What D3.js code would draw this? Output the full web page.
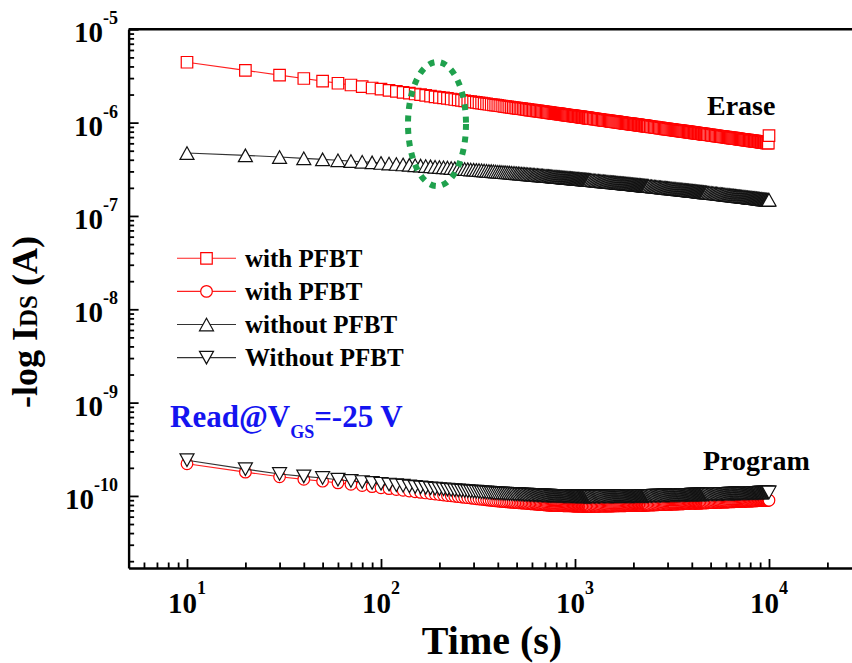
<!DOCTYPE html>
<html><head><meta charset="utf-8">
<script src="https://cdn.jsdelivr.net/npm/d3@7"></script>
<style>body{margin:0;background:#fff}svg{display:block}</style>
</head><body><svg id="c" width="852" height="663"></svg>
<script>
// ---------------- data (time in s, log10 of I_DS in A) ----------------
const timeS = [
10,20,30,40,50,60,70,80,90,100,
110,120,130,140,150,160,170,180,190,200,
210,220,230,240,250,260,270,280,290,300,
310,320,330,340,350,360,370,380,390,400,
410,420,430,440,450,460,470,480,490,500,
510,520,530,540,550,560,570,580,590,600,
610,620,630,640,650,660,670,680,690,700,
710,720,730,740,750,760,770,780,790,800,
810,820,830,840,850,860,870,880,890,900,
910,920,930,940,950,960,970,980,990,1000,
1010,1020,1030,1040,1050,1060,1070,1080,1090,1100,
1110,1120,1130,1140,1150,1160,1170,1180,1190,1200,
1220,1240,1260,1280,1300,1320,1340,1360,1380,1400,
1420,1440,1460,1480,1500,1520,1540,1560,1580,1600,
1620,1640,1660,1680,1700,1720,1740,1760,1780,1800,
1820,1840,1860,1880,1900,1920,1940,1960,1980,2000,
2020,2040,2060,2080,2100,2120,2140,2160,2180,2200,
2220,2240,2260,2280,2300,2320,2340,2360,2380,2400,
2440,2480,2520,2560,2600,2640,2680,2720,2760,2800,
2840,2880,2920,2960,3000,3040,3080,3120,3160,3200,
3240,3280,3320,3360,3400,3440,3480,3520,3560,3600,
3640,3680,3720,3760,3800,3840,3880,3920,3960,4000,
4040,4080,4120,4160,4200,4240,4280,4320,4360,4400,
4440,4480,4520,4560,4600,4640,4680,4720,4760,4800,
4880,4960,5040,5120,5200,5280,5360,5440,5520,5600,
5680,5760,5840,5920,6000,6080,6160,6240,6320,6400,
6480,6560,6640,6720,6800,6880,6960,7040,7120,7200,
7280,7360,7440,7520,7600,7680,7760,7840,7920,8000,
8080,8160,8240,8320,8400,8480,8560,8640,8720,8800,
8880,8960,9040,9120,9200,9280,9360,9440,9520,9600,
9680,9760,9840,9920,10000];

const logEraseWithPFBT = [
-5.353,-5.440,-5.491,-5.527,-5.555,-5.578,-5.597,-5.614,-5.629,-5.642,
-5.654,-5.665,-5.675,-5.684,-5.693,-5.701,-5.709,-5.716,-5.723,-5.729,
-5.735,-5.741,-5.747,-5.752,-5.757,-5.762,-5.767,-5.771,-5.776,-5.780,
-5.784,-5.788,-5.792,-5.796,-5.799,-5.803,-5.806,-5.810,-5.813,-5.816,
-5.819,-5.822,-5.825,-5.828,-5.831,-5.834,-5.836,-5.839,-5.841,-5.844,
-5.847,-5.849,-5.851,-5.854,-5.856,-5.858,-5.861,-5.863,-5.865,-5.867,
-5.869,-5.871,-5.873,-5.875,-5.877,-5.879,-5.881,-5.883,-5.884,-5.886,
-5.888,-5.890,-5.891,-5.893,-5.895,-5.897,-5.898,-5.900,-5.901,-5.903,
-5.904,-5.906,-5.907,-5.909,-5.910,-5.912,-5.913,-5.915,-5.916,-5.918,
-5.919,-5.921,-5.922,-5.923,-5.924,-5.926,-5.927,-5.928,-5.929,-5.931,
-5.932,-5.934,-5.935,-5.936,-5.937,-5.938,-5.939,-5.941,-5.942,-5.943,
-5.944,-5.945,-5.946,-5.948,-5.949,-5.950,-5.951,-5.952,-5.953,-5.954,
-5.956,-5.958,-5.960,-5.962,-5.964,-5.966,-5.968,-5.970,-5.972,-5.973,
-5.975,-5.977,-5.979,-5.980,-5.982,-5.984,-5.986,-5.987,-5.989,-5.990,
-5.992,-5.993,-5.995,-5.996,-5.998,-5.999,-6.001,-6.002,-6.004,-6.005,
-6.007,-6.008,-6.009,-6.010,-6.012,-6.013,-6.014,-6.015,-6.017,-6.018,
-6.020,-6.021,-6.022,-6.023,-6.024,-6.025,-6.027,-6.028,-6.029,-6.030,
-6.031,-6.032,-6.033,-6.034,-6.035,-6.036,-6.038,-6.039,-6.040,-6.041,
-6.043,-6.045,-6.047,-6.049,-6.051,-6.053,-6.055,-6.057,-6.059,-6.060,
-6.062,-6.064,-6.066,-6.067,-6.069,-6.071,-6.073,-6.074,-6.076,-6.077,
-6.079,-6.080,-6.082,-6.083,-6.085,-6.086,-6.088,-6.089,-6.091,-6.092,
-6.094,-6.095,-6.096,-6.097,-6.099,-6.100,-6.101,-6.102,-6.104,-6.105,
-6.107,-6.108,-6.109,-6.110,-6.111,-6.112,-6.114,-6.115,-6.116,-6.117,
-6.118,-6.119,-6.121,-6.122,-6.123,-6.124,-6.125,-6.126,-6.127,-6.128,
-6.130,-6.132,-6.134,-6.136,-6.138,-6.140,-6.142,-6.144,-6.146,-6.147,
-6.149,-6.151,-6.153,-6.154,-6.156,-6.158,-6.160,-6.161,-6.163,-6.164,
-6.166,-6.167,-6.169,-6.170,-6.172,-6.173,-6.175,-6.176,-6.178,-6.179,
-6.181,-6.182,-6.183,-6.184,-6.186,-6.187,-6.188,-6.189,-6.191,-6.192,
-6.194,-6.195,-6.196,-6.197,-6.198,-6.199,-6.201,-6.202,-6.203,-6.204,
-6.205,-6.206,-6.207,-6.208,-6.210,-6.211,-6.212,-6.213,-6.214,-6.215,
-6.216,-6.217,-6.218,-6.219,-6.140];

const logProgramWithPFBT = [
-9.655,-9.745,-9.795,-9.822,-9.842,-9.860,-9.875,-9.888,-9.900,-9.912,
-9.922,-9.931,-9.940,-9.948,-9.955,-9.962,-9.968,-9.974,-9.980,-9.985,
-9.990,-9.995,-9.999,-10.004,-10.008,-10.012,-10.016,-10.019,-10.023,-10.026,
-10.030,-10.033,-10.036,-10.039,-10.042,-10.045,-10.048,-10.050,-10.053,-10.055,
-10.057,-10.059,-10.061,-10.062,-10.064,-10.066,-10.067,-10.069,-10.070,-10.072,
-10.073,-10.074,-10.076,-10.077,-10.078,-10.080,-10.081,-10.082,-10.084,-10.085,
-10.086,-10.087,-10.088,-10.089,-10.091,-10.092,-10.093,-10.094,-10.095,-10.096,
-10.097,-10.098,-10.099,-10.100,-10.101,-10.101,-10.101,-10.101,-10.102,-10.102,
-10.103,-10.103,-10.103,-10.103,-10.104,-10.104,-10.105,-10.105,-10.105,-10.105,
-10.106,-10.106,-10.106,-10.106,-10.107,-10.107,-10.108,-10.108,-10.108,-10.108,
-10.109,-10.109,-10.109,-10.109,-10.110,-10.110,-10.110,-10.110,-10.111,-10.111,
-10.111,-10.111,-10.112,-10.112,-10.112,-10.112,-10.113,-10.113,-10.113,-10.113,
-10.113,-10.112,-10.112,-10.112,-10.112,-10.111,-10.111,-10.110,-10.110,-10.110,
-10.110,-10.109,-10.109,-10.109,-10.109,-10.108,-10.108,-10.108,-10.108,-10.107,
-10.107,-10.107,-10.107,-10.106,-10.106,-10.105,-10.105,-10.105,-10.105,-10.105,
-10.105,-10.104,-10.104,-10.104,-10.104,-10.103,-10.103,-10.103,-10.103,-10.102,
-10.102,-10.102,-10.102,-10.101,-10.101,-10.101,-10.101,-10.101,-10.101,-10.100,
-10.100,-10.100,-10.100,-10.100,-10.100,-10.099,-10.099,-10.099,-10.099,-10.098,
-10.098,-10.098,-10.098,-10.097,-10.096,-10.095,-10.095,-10.094,-10.094,-10.093,
-10.093,-10.092,-10.092,-10.091,-10.091,-10.090,-10.090,-10.089,-10.089,-10.088,
-10.088,-10.087,-10.087,-10.087,-10.087,-10.086,-10.086,-10.085,-10.085,-10.084,
-10.084,-10.083,-10.083,-10.083,-10.083,-10.082,-10.082,-10.081,-10.081,-10.080,
-10.080,-10.080,-10.080,-10.079,-10.079,-10.078,-10.078,-10.077,-10.077,-10.077,
-10.077,-10.076,-10.076,-10.075,-10.075,-10.075,-10.075,-10.074,-10.074,-10.074,
-10.073,-10.072,-10.072,-10.071,-10.071,-10.070,-10.070,-10.069,-10.069,-10.068,
-10.068,-10.067,-10.067,-10.066,-10.066,-10.065,-10.065,-10.064,-10.064,-10.063,
-10.063,-10.062,-10.062,-10.061,-10.061,-10.060,-10.060,-10.059,-10.059,-10.058,
-10.058,-10.058,-10.058,-10.057,-10.057,-10.056,-10.056,-10.055,-10.055,-10.054,
-10.054,-10.054,-10.054,-10.053,-10.053,-10.052,-10.052,-10.052,-10.052,-10.051,
-10.051,-10.050,-10.050,-10.050,-10.050,-10.049,-10.049,-10.048,-10.048,-10.048,
-10.048,-10.047,-10.047,-10.046,-10.046];

const logEraseWithoutPFBT = [
-6.326,-6.351,-6.369,-6.383,-6.394,-6.403,-6.412,-6.419,-6.426,-6.432,
-6.438,-6.443,-6.448,-6.453,-6.457,-6.461,-6.465,-6.469,-6.473,-6.476,
-6.479,-6.482,-6.486,-6.488,-6.491,-6.494,-6.497,-6.499,-6.502,-6.504,
-6.507,-6.509,-6.511,-6.513,-6.516,-6.518,-6.520,-6.522,-6.524,-6.526,
-6.528,-6.529,-6.531,-6.533,-6.534,-6.536,-6.538,-6.540,-6.541,-6.543,
-6.544,-6.546,-6.547,-6.549,-6.550,-6.552,-6.553,-6.554,-6.556,-6.557,
-6.559,-6.560,-6.561,-6.562,-6.564,-6.565,-6.566,-6.567,-6.569,-6.570,
-6.571,-6.572,-6.573,-6.574,-6.575,-6.576,-6.578,-6.579,-6.580,-6.581,
-6.582,-6.583,-6.584,-6.585,-6.586,-6.587,-6.588,-6.589,-6.590,-6.591,
-6.592,-6.593,-6.594,-6.594,-6.595,-6.596,-6.597,-6.598,-6.599,-6.600,
-6.601,-6.601,-6.602,-6.603,-6.604,-6.605,-6.606,-6.606,-6.607,-6.608,
-6.609,-6.609,-6.610,-6.611,-6.612,-6.612,-6.613,-6.614,-6.615,-6.615,
-6.617,-6.618,-6.620,-6.621,-6.623,-6.624,-6.626,-6.627,-6.628,-6.629,
-6.631,-6.632,-6.633,-6.634,-6.636,-6.637,-6.638,-6.639,-6.640,-6.641,
-6.643,-6.644,-6.645,-6.646,-6.647,-6.648,-6.649,-6.650,-6.651,-6.652,
-6.653,-6.654,-6.655,-6.656,-6.657,-6.658,-6.659,-6.660,-6.661,-6.662,
-6.663,-6.664,-6.665,-6.666,-6.667,-6.668,-6.669,-6.669,-6.670,-6.671,
-6.672,-6.673,-6.674,-6.675,-6.676,-6.676,-6.677,-6.678,-6.679,-6.679,
-6.681,-6.683,-6.685,-6.686,-6.688,-6.689,-6.691,-6.692,-6.694,-6.695,
-6.696,-6.697,-6.699,-6.700,-6.702,-6.703,-6.704,-6.705,-6.707,-6.708,
-6.709,-6.710,-6.712,-6.713,-6.714,-6.715,-6.716,-6.717,-6.718,-6.719,
-6.721,-6.722,-6.723,-6.724,-6.725,-6.726,-6.727,-6.728,-6.729,-6.730,
-6.731,-6.732,-6.733,-6.734,-6.735,-6.736,-6.737,-6.738,-6.739,-6.740,
-6.741,-6.742,-6.743,-6.744,-6.745,-6.746,-6.747,-6.747,-6.748,-6.749,
-6.751,-6.752,-6.754,-6.756,-6.758,-6.759,-6.761,-6.762,-6.764,-6.765,
-6.767,-6.768,-6.770,-6.771,-6.773,-6.774,-6.776,-6.777,-6.779,-6.780,
-6.781,-6.782,-6.784,-6.785,-6.787,-6.788,-6.789,-6.790,-6.791,-6.792,
-6.794,-6.795,-6.796,-6.797,-6.798,-6.799,-6.801,-6.802,-6.803,-6.804,
-6.805,-6.806,-6.807,-6.808,-6.809,-6.810,-6.811,-6.812,-6.813,-6.814,
-6.815,-6.816,-6.818,-6.819,-6.820,-6.821,-6.822,-6.822,-6.823,-6.824,
-6.825,-6.826,-6.826,-6.827,-6.826];

const logProgramWithoutPFBT = [
-9.617,-9.713,-9.765,-9.790,-9.808,-9.826,-9.840,-9.851,-9.861,-9.870,
-9.878,-9.885,-9.891,-9.897,-9.903,-9.908,-9.913,-9.918,-9.922,-9.926,
-9.929,-9.932,-9.936,-9.938,-9.941,-9.944,-9.946,-9.949,-9.951,-9.953,
-9.955,-9.957,-9.960,-9.961,-9.963,-9.965,-9.967,-9.969,-9.971,-9.972,
-9.973,-9.974,-9.975,-9.976,-9.977,-9.978,-9.979,-9.980,-9.981,-9.982,
-9.982,-9.983,-9.984,-9.985,-9.986,-9.986,-9.987,-9.988,-9.989,-9.989,
-9.990,-9.991,-9.992,-9.992,-9.993,-9.993,-9.994,-9.994,-9.995,-9.996,
-9.997,-9.997,-9.998,-9.998,-9.999,-9.999,-9.999,-9.999,-10.000,-10.000,
-10.000,-10.000,-10.001,-10.001,-10.001,-10.001,-10.002,-10.002,-10.002,-10.002,
-10.003,-10.003,-10.003,-10.003,-10.003,-10.003,-10.004,-10.004,-10.004,-10.004,
-10.005,-10.005,-10.005,-10.005,-10.005,-10.005,-10.006,-10.006,-10.006,-10.006,
-10.007,-10.007,-10.007,-10.007,-10.007,-10.007,-10.008,-10.008,-10.008,-10.008,
-10.008,-10.008,-10.008,-10.007,-10.007,-10.007,-10.007,-10.006,-10.006,-10.006,
-10.006,-10.006,-10.006,-10.005,-10.005,-10.005,-10.005,-10.005,-10.005,-10.004,
-10.004,-10.004,-10.004,-10.004,-10.004,-10.004,-10.004,-10.003,-10.003,-10.003,
-10.003,-10.003,-10.003,-10.002,-10.002,-10.002,-10.002,-10.002,-10.002,-10.002,
-10.002,-10.001,-10.001,-10.001,-10.001,-10.001,-10.001,-10.001,-10.001,-10.000,
-10.000,-10.000,-10.000,-10.000,-10.000,-10.000,-10.000,-9.999,-9.999,-9.999,
-9.999,-9.999,-9.999,-9.998,-9.998,-9.997,-9.997,-9.997,-9.997,-9.996,
-9.996,-9.995,-9.995,-9.995,-9.995,-9.994,-9.994,-9.993,-9.993,-9.993,
-9.993,-9.992,-9.992,-9.992,-9.992,-9.991,-9.991,-9.990,-9.990,-9.990,
-9.990,-9.989,-9.989,-9.989,-9.989,-9.988,-9.988,-9.988,-9.988,-9.987,
-9.987,-9.987,-9.987,-9.986,-9.986,-9.986,-9.986,-9.986,-9.986,-9.985,
-9.985,-9.985,-9.985,-9.984,-9.984,-9.984,-9.984,-9.983,-9.983,-9.983,
-9.983,-9.982,-9.982,-9.981,-9.981,-9.981,-9.981,-9.980,-9.980,-9.979,
-9.979,-9.978,-9.978,-9.977,-9.977,-9.977,-9.977,-9.976,-9.976,-9.975,
-9.975,-9.975,-9.975,-9.974,-9.974,-9.973,-9.973,-9.973,-9.973,-9.972,
-9.972,-9.971,-9.971,-9.971,-9.971,-9.970,-9.970,-9.970,-9.970,-9.969,
-9.969,-9.969,-9.969,-9.968,-9.968,-9.968,-9.968,-9.967,-9.967,-9.967,
-9.967,-9.966,-9.966,-9.966,-9.966,-9.965,-9.965,-9.965,-9.965,-9.964,
-9.964,-9.964,-9.964,-9.963,-9.963];

const legendLabels = ["with PFBT", "with PFBT", "without PFBT", "Without PFBT"];
const xTickExps = [1, 2, 3, 4];
const yTickExps = [-5, -6, -7, -8, -9, -10];
const xTitle = "Time (s)";
const eraseLabel = "Erase", programLabel = "Program";

[logEraseWithPFBT, logProgramWithPFBT, logEraseWithoutPFBT, logProgramWithoutPFBT].forEach((a, i) => {
  if (a.length !== timeS.length) throw new Error("series " + i + " length " + a.length + " != " + timeS.length);
});

// ---------------- drawing ----------------
const FONT = "'Liberation Serif','Times New Roman',Times,serif";
const svg = d3.select("#c");
const x = d3.scaleLog().domain([5, 5e4]).range([128.6, 904.6]);
const y = d3.scaleLog().domain([1.69e-11, 1e-5]).range([568, 29.3]);

const series = [
  {label: legendLabels[0], vals: logEraseWithPFBT, color: "#ff0000", line: "#ff2020", sym: "square"},
  {label: legendLabels[1], vals: logProgramWithPFBT, color: "#ff0000", line: "#ff2020", sym: "circle"},
  {label: legendLabels[2], vals: logEraseWithoutPFBT, color: "#111", line: "#333", sym: "up"},
  {label: legendLabels[3], vals: logProgramWithoutPFBT, color: "#111", line: "#333", sym: "down"}
];

function symPath(type) {
  if (type === "square") return "M-5.75,-5.75h11.5v11.5h-11.5Z";
  if (type === "up") return "M0,-6.3L7,6.3L-7,6.3Z";
  if (type === "down") return "M0,6.3L7,-6.3L-7,-6.3Z";
  return "M5.8,0A5.8,5.8 0 1,1 -5.8,0A5.8,5.8 0 1,1 5.8,0Z";
}

const plot = svg.append("g");
series.forEach(s => {
  const pts = timeS.map((t, i) => [t, Math.pow(10, s.vals[i])]);
  const line = d3.line().x(d => x(d[0])).y(d => y(d[1]));
  plot.append("path").attr("d", line(pts)).attr("fill", "none")
    .attr("stroke", s.line).attr("stroke-width", 1.1);
  plot.append("g").selectAll("path").data(pts).join("path")
    .attr("transform", d => `translate(${x(d[0])},${y(d[1])})`)
    .attr("d", symPath(s.sym))
    .attr("fill", "#fff").attr("stroke", s.color).attr("stroke-width", 1.2);
});

// ---- axes ----
const yMajor = yTickExps.map(e => Math.pow(10, e));
const yMinor = [];
for (let e = -11; e <= -6; e++) for (let k = 2; k <= 9; k++) {
  const v = k * Math.pow(10, e);
  if (v >= 1.69e-11 && v <= 1e-5) yMinor.push(v);
}
const xMajor = xTickExps.map(e => Math.pow(10, e));
const xMinor = [];
for (let e = 0; e <= 4; e++) for (let k = 2; k <= 9; k++) {
  const v = k * Math.pow(10, e);
  if (v >= 5 && v <= 5e4) xMinor.push(v);
}

function styleAxis(g, showDomain) {
  g.selectAll("text").remove();
  g.selectAll(".tick line").attr("stroke", "#000").attr("stroke-width", 1.8);
  if (showDomain) g.select(".domain").attr("stroke", "#000").attr("stroke-width", 2.4);
  else g.select(".domain").remove();
}

svg.append("g").attr("transform", "translate(128.6,0)")
  .call(d3.axisRight(y).tickValues(yMinor).tickSize(5.5).tickSizeOuter(0).tickFormat(""))
  .call(g => styleAxis(g, false));
svg.append("g").attr("transform", "translate(128.6,0)")
  .call(d3.axisRight(y).tickValues(yMajor).tickSize(10).tickSizeOuter(0).tickFormat(""))
  .call(g => styleAxis(g, true));
svg.append("g").attr("transform", "translate(0,568)")
  .call(d3.axisTop(x).tickValues(xMinor).tickSize(5.5).tickSizeOuter(0).tickFormat(""))
  .call(g => styleAxis(g, false));
svg.append("g").attr("transform", "translate(0,568)")
  .call(d3.axisTop(x).tickValues(xMajor).tickSize(9).tickSizeOuter(0).tickFormat(""))
  .call(g => styleAxis(g, true));
svg.append("line").attr("x1", x.range()[0]).attr("x2", x.range()[1])
  .attr("y1", y.range()[1]).attr("y2", y.range()[1])
  .attr("stroke", "#000").attr("stroke-width", 2.4);

// tick labels
const yl = svg.append("g").attr("font-family", FONT).attr("font-weight", "bold").attr("fill", "#000");
yTickExps.forEach(e => {
  const t = yl.append("text").attr("x", 118).attr("y", y(Math.pow(10, e)) + 13)
    .attr("text-anchor", "end").attr("font-size", 29);
  t.append("tspan").text("10");
  t.append("tspan").attr("font-size", 18).attr("dy", -18).text(String(e));
});
const xl = svg.append("g").attr("font-family", FONT).attr("font-weight", "bold").attr("fill", "#000");
xTickExps.forEach(e => {
  const t = xl.append("text").attr("x", x(Math.pow(10, e))).attr("y", 613)
    .attr("text-anchor", "middle").attr("font-size", 29);
  t.append("tspan").text("10");
  t.append("tspan").attr("font-size", 18).attr("dy", -19).text(String(e));
});

// axis titles
svg.append("text").attr("x", 492).attr("y", 654).attr("text-anchor", "middle")
  .attr("font-family", FONT).attr("font-weight", "bold").attr("font-size", 40).text(xTitle);
const yt = svg.append("text").attr("transform", "translate(37,322) rotate(-90)")
  .attr("text-anchor", "middle").attr("font-family", FONT).attr("font-weight", "bold")
  .attr("font-size", 36);
yt.append("tspan").text("-log I");
yt.append("tspan").attr("font-size", 25).text("DS");
yt.append("tspan").text(" (A)");

// legend
const lg = svg.append("g");
series.forEach((s, i) => {
  const ly = 258.3 + i * 33.1;
  lg.append("line").attr("x1", 177).attr("x2", 236).attr("y1", ly).attr("y2", ly)
    .attr("stroke", s.line).attr("stroke-width", 1.1);
  lg.append("path").attr("transform", `translate(206.5,${ly})`).attr("d", symPath(s.sym))
    .attr("fill", "#fff").attr("stroke", s.color).attr("stroke-width", 1.2);
  lg.append("text").attr("x", 245).attr("y", ly + 8.7).attr("font-family", FONT)
    .attr("font-weight", "bold").attr("font-size", 25).text(s.label);
});

// annotations
svg.append("text").attr("x", 707).attr("y", 115).attr("font-family", FONT)
  .attr("font-weight", "bold").attr("font-size", 28).text(eraseLabel);
svg.append("text").attr("x", 703).attr("y", 470).attr("font-family", FONT)
  .attr("font-weight", "bold").attr("font-size", 28).text(programLabel);
const rd = svg.append("text").attr("x", 170).attr("y", 427).attr("font-family", FONT)
  .attr("font-weight", "bold").attr("font-size", 31).attr("fill", "#1414f0");
rd.append("tspan").text("Read@V");
rd.append("tspan").attr("font-size", 18).attr("dy", 11).text("GS");
rd.append("tspan").attr("dy", -11).text("=-25 V");

// green dotted ellipse highlighting the erase curves
svg.append("ellipse").attr("cx", 437).attr("cy", 124).attr("rx", 29).attr("ry", 62)
  .attr("fill", "none").attr("stroke", "#1fa14d").attr("stroke-width", 6)
  .attr("stroke-dasharray", "6 6.5");
</script></body></html>
